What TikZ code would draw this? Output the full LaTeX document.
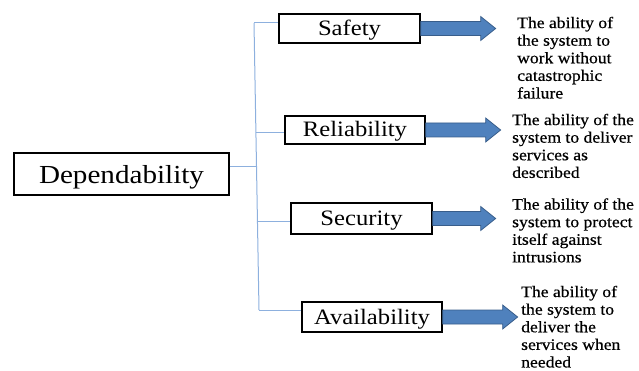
\documentclass[tikz,border=0pt]{standalone}
\usepackage{fontspec}
\setmainfont{Liberation Serif}[FakeStretch=1.12]
\newfontfamily\descfont{Liberation Serif}[FakeStretch=1.1,FakeBold=0.5]
\usetikzlibrary{calc}
\definecolor{busblue}{RGB}{141,176,222}
\definecolor{arrfill}{RGB}{79,129,189}
\definecolor{arrdraw}{RGB}{56,93,138}
\tikzset{
  bus/.style={draw=busblue, line width=1pt},
  catbox/.style={draw=black, fill=white, line width=1.3pt, inner sep=0pt,
    text height=15pt, text depth=1pt,
    font=\fontsize{22}{24}\selectfont},
  depbox/.style={catbox, text height=21pt, text depth=1pt,
    font=\fontsize{26}{28}\selectfont},
  desc/.style={anchor=north west, align=left, inner sep=0pt,
    font=\descfont\fontsize{16}{17.6}\selectfont},
  blockarrow/.style={fill=arrfill, draw=arrdraw, line width=0.8pt, line join=miter}
}
\newcommand{\blockarr}[2]{%
  \path[blockarrow] (#1.east) ++(0,-7) -- ++(#2,0) -- ++(0,-5) -- ++(15,12)
    -- ++(-15,12) -- ++(0,-5) -- ++(-#2,0) -- cycle;}
\begin{document}
\begin{tikzpicture}[x=1pt,y=-1pt]
\useasboundingbox (0,0) rectangle (639,371);

% bus
\coordinate (j1) at (254,23);
\coordinate (j2) at (255.9,133);
\coordinate (j0) at (256.5,167);
\coordinate (j3) at (257.4,222);
\coordinate (j4) at (259,310);

% boxes
\node[depbox, minimum width=215, minimum height=42] (dep) at (121.5,174) {Dependability};
\node[catbox, minimum width=141, minimum height=29] (saf) at (349.5,28.5) {Safety};
\node[catbox, minimum width=140, minimum height=28] (rel) at (355,130) {Reliability};
\node[catbox, minimum width=141, minimum height=31] (sec) at (361.5,218.5) {Security};
\node[catbox, minimum width=140, minimum height=30] (ava) at (372,317) {Availability};

% connectors
\draw[bus] (j1) -- (j4);
\draw[bus] (dep.east |- j0) -- (j0);
\draw[bus] (j1) -- (saf.west |- j1);
\draw[bus] (j2) -- (rel.west |- j2);
\draw[bus] (j3) -- (sec.west |- j3);
\draw[bus] (j4) -- (ava.west |- j4);

% descriptions
\node[desc] (dsaf) at (517,16.6) {The ability of\\the system to\\work without\\catastrophic\\failure};
\node[desc] (drel) at (512,113.6) {The ability of the\\system to deliver\\services as\\described};
\node[desc] (dsec) at (512,198.1) {The ability of the\\system to protect\\itself against\\intrusions};
\node[desc] (dava) at (521,285.6) {The ability of\\the system to\\deliver the\\services when\\needed};

% block arrows
\blockarr{saf}{60}
\blockarr{rel}{60}
\blockarr{sec}{48}
\blockarr{ava}{60}
\end{tikzpicture}
\end{document}
